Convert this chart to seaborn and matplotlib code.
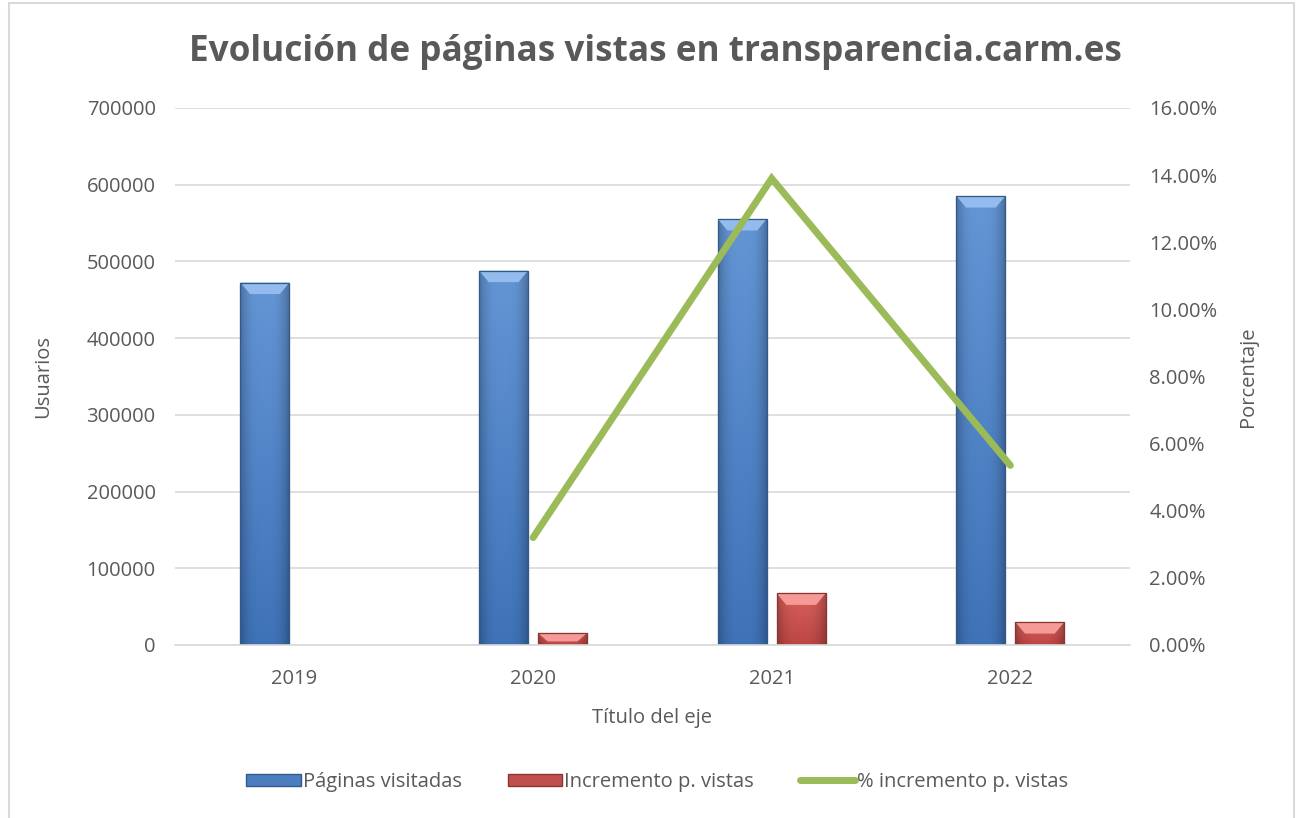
import matplotlib
matplotlib.use("Agg")
import matplotlib.pyplot as plt
import matplotlib.colors as mcolors
import seaborn as sns
import pandas as pd
import numpy as np
from matplotlib.patches import Rectangle, Patch, Polygon
from matplotlib.lines import Line2D
from matplotlib.ticker import FuncFormatter, MultipleLocator

years = ["2019", "2020", "2021", "2022"]
paginas = [472500, 488000, 555300, 585200]
incremento = [0, 15500, 67300, 29900]
pct_years = ["2020", "2021", "2022"]
pct_incremento = [3.2, 13.9, 5.35]

sns.set_theme(style="white")
plt.rcParams['font.family'] = ['Open Sans', 'DejaVu Sans']
TXT = "#595959"
BLUE, RED, GREEN = "#4A7EBF", "#C0504D", "#9BBB59"
TOPC = {BLUE: "#6496D6", RED: "#D9605C"}
BOTC = {BLUE: "#3F73B8", RED: "#BC4643"}
LIGHT = {BLUE: "#93BBEE", RED: "#F59A97"}
DARK = {BLUE: "#33598C", RED: "#8C3432"}

df = pd.DataFrame({
    "Año": years * 2,
    "Valor": paginas + incremento,
    "Serie": ["Páginas visitadas"] * 4 + ["Incremento p. vistas"] * 4,
})

fig = plt.figure(figsize=(12.97, 8.18), dpi=100)
ax = fig.add_axes([0.135, 0.2115, 0.736, 0.6565])

sns.barplot(data=df, x="Año", y="Valor", hue="Serie", ax=ax,
            palette=[BLUE, RED], width=0.494, gap=0.17,
            legend=False, saturation=1)
ax.set_ylim(0, 700000)
ax.set_xlim(-0.5, 3.5)

# bevel-like shading of the bars
bars = list(ax.patches)
prof = np.linspace(-1, 1, 64)
hshade = 1 - 0.25 * np.abs(prof) ** 3
for p in bars:
    if p.get_height() == 0:
        p.set_visible(False)
        continue
    base = mcolors.to_hex(p.get_facecolor()).upper()
    key = BLUE if base == BLUE.upper() else RED
    x0, w, h = p.get_x(), p.get_width(), p.get_height()
    t = np.linspace(0, 1, 64)[:, None, None]
    top_rgb = np.array(mcolors.to_rgb(TOPC[key]))[None, None, :]
    bot_rgb = np.array(mcolors.to_rgb(BOTC[key]))[None, None, :]
    img = top_rgb * (1 - t) + bot_rgb * t
    img = (img * hshade[None, :, None]).clip(0, 1)
    im = ax.imshow(img, extent=(x0, x0 + w, 0, h), aspect="auto", origin="upper",
                   zorder=p.get_zorder() + 0.1, interpolation="bilinear")
    im.set_clip_path(p)
    p.set_edgecolor("#7f7f7f")
    p.set_linewidth(0.8)
    bx = 0.04
    b = min(15000, h * 0.7)
    top = Polygon([(x0, h), (x0 + w, h), (x0 + w - bx, h - b), (x0 + bx, h - b)],
                  closed=True, facecolor=LIGHT[key], edgecolor="none",
                  zorder=p.get_zorder() + 0.2)
    ax.add_patch(top)
    ax.add_patch(Rectangle((x0, 0), w, h, fill=False, edgecolor=DARK[key],
                           linewidth=0.9, zorder=p.get_zorder() + 0.3))

ax.set_ylim(0, 700000)
ax.set_xlim(-0.5, 3.5)
ax.yaxis.set_major_locator(MultipleLocator(100000))
ax.yaxis.set_major_formatter(FuncFormatter(lambda v, _: f"{int(v)}"))
ax.grid(axis="y", color="#d9d9d9", linewidth=1.2)
ax.set_axisbelow(True)
for s in ["left", "right", "top"]:
    ax.spines[s].set_visible(False)
ax.spines["bottom"].set_color("#d9d9d9")
ax.spines["bottom"].set_linewidth(1.2)
ax.tick_params(axis="y", colors=TXT, labelsize=14.5, length=0, pad=14)
ax.tick_params(axis="x", colors=TXT, labelsize=14.5, length=0, pad=17)
ax.set_xlabel("Título del eje", color=TXT, fontsize=14.5, labelpad=14)
ax.set_ylabel("Usuarios", color=TXT, fontsize=14.5, labelpad=24)

ax2 = ax.twinx()
xpos = [years.index(y) for y in pct_years]
sns.lineplot(x=xpos, y=pct_incremento, ax=ax2, color=GREEN,
             linewidth=5, solid_capstyle="round", solid_joinstyle="miter")
ax2.set_ylim(0, 16)
ax2.set_xlim(-0.5, 3.5)
ax2.yaxis.set_major_locator(MultipleLocator(2))
ax2.yaxis.set_major_formatter(FuncFormatter(lambda v, _: f"{v:.2f}%"))
for s in ["left", "right", "top", "bottom"]:
    ax2.spines[s].set_visible(False)
ax2.tick_params(axis="y", colors=TXT, labelsize=14.5, length=0, pad=14)
ax2.set_ylabel("Porcentaje", color=TXT, fontsize=14.5, labelpad=15)

fig.text(0.505, 0.936, "Evolución de páginas vistas en transparencia.carm.es",
         ha="center", va="center", fontsize=25.3, fontweight="bold", color=TXT)

handles = [
    Patch(facecolor=BLUE, edgecolor=DARK[BLUE]),
    Patch(facecolor=RED, edgecolor=DARK[RED]),
    Line2D([0], [0], color=GREEN, linewidth=5, solid_capstyle="round"),
]
labels = ["Páginas visitadas", "Incremento p. vistas", "% incremento p. vistas"]
fig.legend(handles, labels, loc="center", bbox_to_anchor=(0.5066, 0.044),
           ncol=3, frameon=False, fontsize=14.5, labelcolor=TXT,
           handlelength=2.7, handleheight=0.55, handletextpad=0.1, columnspacing=2.3)

fig.add_artist(Rectangle((0.007, -0.01), 0.991, 1.006, transform=fig.transFigure,
                         fill=False, edgecolor="#d9d9d9", linewidth=1.5))

fig.savefig("out.png", dpi=100)
